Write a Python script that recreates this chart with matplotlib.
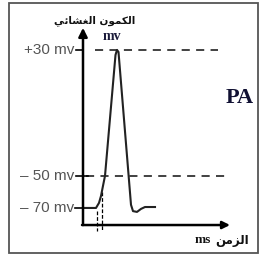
import matplotlib.pyplot as plt
from matplotlib.patches import Rectangle

# potentiel d'action (ms, mv)
temps = [0, 1.3, 1.6, 1.8, 2.0, 2.2, 3.25, 3.4, 3.55, 4.8, 5.0, 5.4, 5.8, 6.2, 7.2]
potentiel = [-70, -70, -66.8, -62.4, -56, -49.7, 26.8, 30, 28.7, -68, -72, -72.5, -70.6, -69.4, -69.4]

niveaux = [30, -50, -70]
etiquettes = ['+30 mv', '\u2013 50 mv', '\u2013 70 mv']

# seuil : deux reperes verticaux
seuil_t = [1.35, 1.85]
seuil_haut = [-72, -60]

# arabe deja mis en forme (ordre visuel)
titre_y = '\uFEF2\uFE8B\uFE8E\uFEB8\uFED0\uFEDF\uFE8D \uFEE5\uFEEE\uFEE4\uFEDC\uFEDF\uFE8D'
titre_x = '\uFEE6\uFEE3\uFEB0\uFEDF\uFE8D'

fig = plt.figure(figsize=(2.6, 2.56), dpi=100)
ax = fig.add_axes([0, 0, 1, 1])
ax.set_xlim(-8.3, 17.7)
ax.set_ylim(-100.4, 61.6)
ax.axis('off')

fig.patches.append(Rectangle((9 / 260, 3 / 256), 249 / 260, 250 / 256,
                             transform=fig.transFigure, fill=False,
                             edgecolor='#555555', lw=1.3))

bas = -80.8
ax.annotate('', xy=(0, 44), xytext=(0, bas),
            arrowprops=dict(arrowstyle='-|>', lw=1.8, color='k',
                            mutation_scale=13, shrinkA=0, shrinkB=0))
ax.annotate('', xy=(14.7, bas), xytext=(-0.1, bas),
            arrowprops=dict(arrowstyle='-|>', lw=1.8, color='k',
                            mutation_scale=11, shrinkA=0, shrinkB=0))

# pointilles horizontaux
ax.plot([1.2, 13.5], [30, 30], color='#333333', lw=1.3, dashes=(4.5, 3.5))
ax.plot([0.3, 14.4], [-50, -50], color='#333333', lw=1.3, dashes=(4.5, 3.5))

# petits traits sur l'axe
ax.plot([-0.7, 0], [30, 30], color='k', lw=1.2)
ax.plot([-0.7, 0.5], [-50, -50], color='k', lw=1.2)
ax.plot([-0.8, 0], [-70, -70], color='k', lw=1.2)

for t, h in zip(seuil_t, seuil_haut):
    ax.plot([t, t], [h, -84.5], color='k', lw=0.9, dashes=(3, 1.5))

ax.plot(temps, potentiel, color='#222222', lw=1.5)

for v, lab in zip(niveaux, etiquettes):
    ax.text(-0.9, v, lab, ha='right', va='center', fontsize=11,
            color='#555555', family='Liberation Sans')

ax.text(1.2, 48.5, titre_y, ha='center', va='center', fontsize=7.5,
        fontweight='bold', family='DejaVu Sans', color='#111111')
ax.text(2.9, 38.5, 'mv', ha='center', va='center', fontsize=10,
        fontweight='bold', family='Liberation Serif', color='#1b1b3a')
ax.text(15.7, -0.5, 'PA', ha='center', va='center', fontsize=16,
        fontweight='bold', family='Liberation Serif', color='#111133')
ax.text(12.0, -90.3, 'ms', ha='center', va='center', fontsize=9.5,
        fontweight='bold', family='Liberation Serif', color='#111111')
ax.text(14.9, -90.3, titre_x, ha='center', va='center', fontsize=8.5,
        fontweight='bold', family='DejaVu Sans', color='#111111')

plt.savefig('out.png', dpi=100)
